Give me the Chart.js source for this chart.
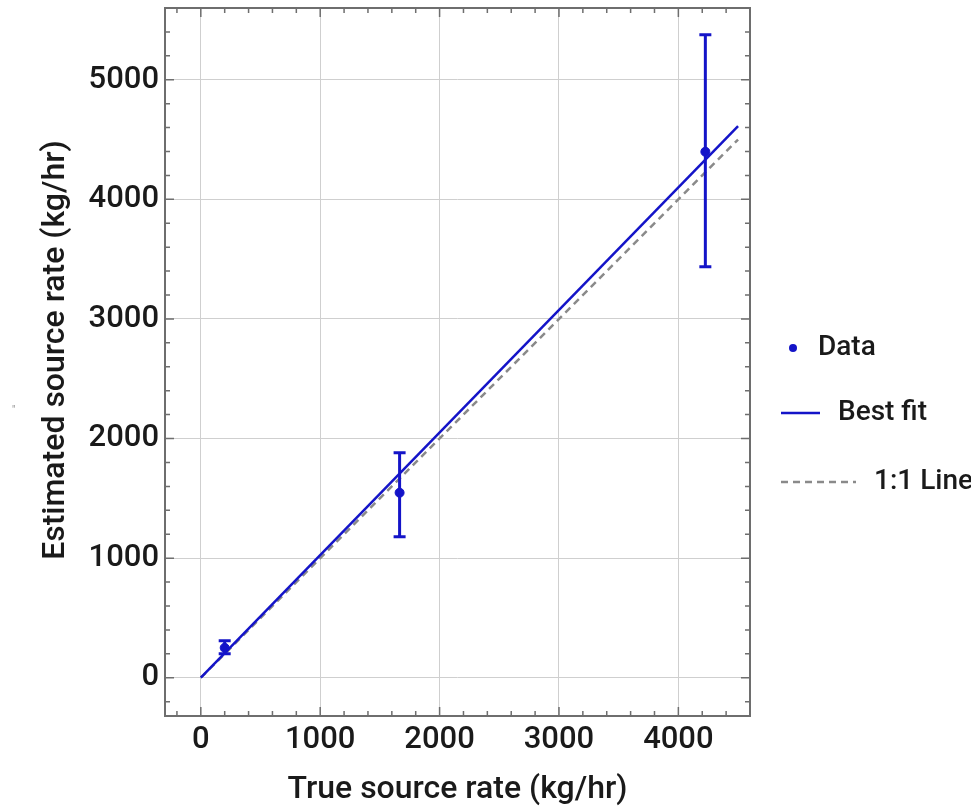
<!DOCTYPE html>
<html>
<head>
<meta charset="utf-8">
<script src="https://cdn.jsdelivr.net/npm/chart.js@4.4.1/dist/chart.umd.min.js"></script>
<style>
  html, body { margin: 0; padding: 0; background: #fff; }
</style>
</head>
<body>
<canvas id="rateChart" width="971" height="810"></canvas>
<script>
// measured points with error bars
const trueRate = [200, 1665, 4226];
const estRate = [250, 1547, 4398];
const errLow = [200, 1179, 3436];
const errHigh = [310, 1881, 5376];

// fitted line and the 1:1 reference
const fitX = [0, 4500];
const fitY = [0, 4613];
const oneX = [0, 4500];
const oneY = [0, 4500];

const xTicks = [0, 1000, 2000, 3000, 4000];
const yTicks = [0, 1000, 2000, 3000, 4000, 5000];

const BLUE = "#1414c8";
const GREY = "#8a8a8a";
const FRAME = "#6e6e6e";

Chart.defaults.font.family = "Roboto";
Chart.defaults.font.size = 31;
Chart.defaults.font.weight = "500";
Chart.defaults.color = "#1a1a1a";

const pairs = (xs, ys) => xs.map((x, i) => ({ x: x, y: ys[i] }));

// frame + inward ticks on all four sides, minor every 200
const framePlugin = {
  id: "frame",
  afterDraw(chart) {
    const { ctx, chartArea: a, scales } = chart;
    const xs = scales.x, ys = scales.y;
    ctx.save();
    ctx.strokeStyle = FRAME;
    ctx.lineWidth = 2;
    ctx.strokeRect(a.left, a.top, a.right - a.left, a.bottom - a.top);
    ctx.lineWidth = 1.5;
    ctx.beginPath();
    for (let v = Math.ceil(xs.min / 200) * 200; v <= xs.max; v += 200) {
      const len = v % 1000 === 0 ? 9 : 5;
      const px = xs.getPixelForValue(v);
      ctx.moveTo(px, a.bottom); ctx.lineTo(px, a.bottom - len);
      ctx.moveTo(px, a.top); ctx.lineTo(px, a.top + len);
    }
    for (let v = Math.ceil(ys.min / 200) * 200; v <= ys.max; v += 200) {
      const len = v % 1000 === 0 ? 9 : 5;
      const py = ys.getPixelForValue(v);
      ctx.moveTo(a.left, py); ctx.lineTo(a.left + len, py);
      ctx.moveTo(a.right, py); ctx.lineTo(a.right - len, py);
    }
    ctx.stroke();
    ctx.restore();
  }
};

const errorBarPlugin = {
  id: "errorBars",
  afterDatasetsDraw(chart) {
    const { ctx, scales } = chart;
    ctx.save();
    ctx.strokeStyle = BLUE;
    ctx.lineWidth = 3;
    trueRate.forEach((x, i) => {
      const px = scales.x.getPixelForValue(x);
      const lo = scales.y.getPixelForValue(errLow[i]);
      const hi = scales.y.getPixelForValue(errHigh[i]);
      ctx.beginPath();
      ctx.moveTo(px, lo); ctx.lineTo(px, hi);
      ctx.moveTo(px - 6, lo); ctx.lineTo(px + 6, lo);
      ctx.moveTo(px - 6, hi); ctx.lineTo(px + 6, hi);
      ctx.stroke();
    });
    ctx.restore();
  }
};

const legendPlugin = {
  id: "sideLegend",
  afterDraw(chart) {
    const ctx = chart.ctx;
    ctx.save();
    ctx.font = "500 28px Roboto";
    ctx.textBaseline = "middle";
    ctx.textAlign = "left";

    ctx.beginPath();
    ctx.fillStyle = BLUE;
    ctx.arc(793, 348, 4, 0, Math.PI * 2);
    ctx.fill();
    ctx.fillStyle = "#1a1a1a";
    ctx.fillText("Data", 818, 348);

    ctx.strokeStyle = BLUE;
    ctx.lineWidth = 2.5;
    ctx.beginPath();
    ctx.moveTo(781, 413); ctx.lineTo(820, 413);
    ctx.stroke();
    ctx.fillText("Best fit", 838, 413);

    ctx.strokeStyle = GREY;
    ctx.setLineDash([7, 5]);
    ctx.beginPath();
    ctx.moveTo(781, 482); ctx.lineTo(856, 482);
    ctx.stroke();
    ctx.setLineDash([]);
    ctx.fillText("1:1 Line", 874, 482);

    // stray mark at the far left of the original figure
    ctx.font = "10px Roboto";
    ctx.fillStyle = "#888";
    ctx.fillText("\"", 12, 410);
    ctx.restore();
  }
};

new Chart(document.getElementById("rateChart"), {
  type: "scatter",
  data: {
    datasets: [
      {
        label: "Data",
        data: pairs(trueRate, estRate),
        backgroundColor: BLUE,
        borderColor: BLUE,
        pointRadius: 4.5,
        order: 0,
      },
      {
        label: "Best fit",
        data: pairs(fitX, fitY),
        showLine: true,
        borderColor: BLUE,
        borderWidth: 2.5,
        pointRadius: 0,
        order: 1,
      },
      {
        label: "1:1 Line",
        data: pairs(oneX, oneY),
        showLine: true,
        borderColor: GREY,
        borderWidth: 2.5,
        borderDash: [7, 5],
        pointRadius: 0,
        order: 2,
      },
    ],
  },
  options: {
    responsive: false,
    animation: false,
    layout: { padding: { left: 0, right: 221, top: 8, bottom: 0 } },
    plugins: {
      legend: { display: false },
      tooltip: { enabled: false },
    },
    scales: {
      x: {
        type: "linear",
        min: -300,
        max: 4600,
        afterBuildTicks: (s) => { s.ticks = xTicks.map((v) => ({ value: v })); },
        afterFit: (s) => { s.height = 94; s.paddingLeft = 0; s.paddingRight = 0; },
        grid: { color: "#cfcfcf", lineWidth: 1, drawTicks: false },
        border: { display: false },
        ticks: { padding: 6, maxRotation: 0, callback: (v) => String(v) },
        title: {
          display: true,
          text: "True source rate (kg/hr)",
          font: { size: 32 },
          padding: { top: 0, bottom: 1 },
        },
      },
      y: {
        type: "linear",
        min: -320,
        max: 5600,
        afterBuildTicks: (s) => { s.ticks = yTicks.map((v) => ({ value: v })); },
        afterFit: (s) => { s.width = 165; s.paddingTop = 0; s.paddingBottom = 0; },
        grid: { color: "#cfcfcf", lineWidth: 1, drawTicks: false },
        border: { display: false },
        ticks: { padding: 6, callback: (v) => String(v) },
        title: {
          display: true,
          text: "   Estimated source rate (kg/hr)",
          font: { size: 32 },
          padding: { top: 37, bottom: 0 },
        },
      },
    },
  },
  plugins: [framePlugin, errorBarPlugin, legendPlugin],
});
</script>
</body>
</html>
